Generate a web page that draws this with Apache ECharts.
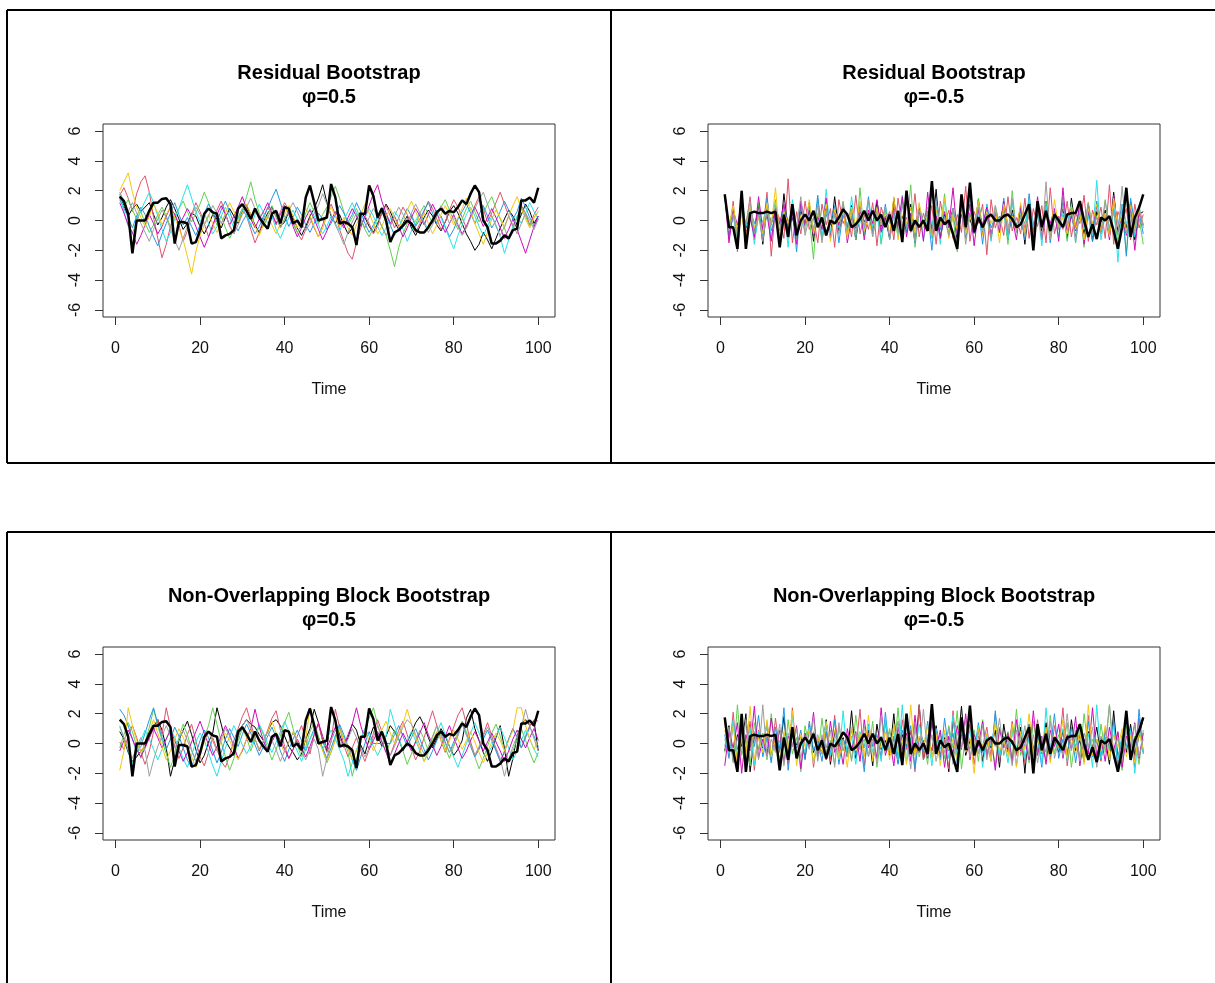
<!DOCTYPE html>
<html>
<head>
<meta charset="utf-8">
<script src="https://cdn.jsdelivr.net/npm/echarts/dist/echarts.min.js"></script>
<style>
  html, body { margin: 0; padding: 0; background: #fff; }
  #main { width: 1215px; height: 983px; }
</style>
</head>
<body>
<div id="main"></div>
<script>
// tick labels
var xTicks = [0, 20, 40, 60, 80, 100];
var yTicks = [-6, -4, -2, 0, 2, 4, 6];

// original series (thick black), phi = 0.5 and phi = -0.5
var origPos = [
  1.6,1.3,0.45,-2.2,0,0,0,0.65,1.2,1.2,
  1.45,1.5,1.1,-1.55,-0.1,-0.1,-0.2,-1.55,-1.45,-0.65,
  0.45,0.8,0.55,0.45,-1.2,-1.0,-0.9,-0.65,0.8,1.1,
  0.65,0.1,0.8,0.2,-0.2,-0.55,0.45,0.65,-0.2,0.9,
  0.8,-0.2,0,-0.45,1.55,2.35,1.2,0,0.1,0.2,
  2.45,1.55,-0.2,-0.1,-0.2,-0.45,-1.65,0.45,0.45,2.35,
  1.65,0.2,0.8,0,-1.45,-0.8,-0.65,-0.35,0,-0.2,
  -0.65,-0.8,-0.8,-0.45,0,0.55,0.8,0.45,0.65,0.55,
  0.9,1.35,1.1,1.8,2.35,1.9,0,-0.45,-1.55,-1.55,
  -1.35,-1.0,-1.2,-0.65,-0.55,1.35,1.35,1.55,1.2,2.2
];
var origNeg = [
  1.75,-0.45,-0.45,-1.9,2.0,-1.9,0.5,0.6,0.5,0.5,
  0.6,0.5,0.6,-1.8,0.4,-1.1,1.1,-1.0,0,0.4,
  0,0.65,-0.45,0.2,-1.0,0,-0.2,0.2,0.75,0.4,
  -0.45,-0.25,0.1,0.65,0,0.65,0,0.4,-0.45,0.4,
  -0.7,0.65,-1.45,2.0,-0.7,0,-0.45,0,-0.7,2.65,
  -0.7,0.2,-0.25,0,-0.9,-1.9,1.75,-0.45,2.55,-0.8,
  0.2,-0.45,0.2,0.4,0,0,0.3,0.4,0.1,-0.45,
  -0.25,0.4,1.1,-2.0,1.3,-0.45,0.65,-0.7,0.4,0,
  -0.45,0.4,0.5,0.5,1.3,0,-1.1,-0.25,-1.25,0.2,
  0,0.3,-0.7,-1.9,-0.45,2.2,-1.1,0.2,0.85,1.75
];

// residual bootstrap, phi = 0.5
var resPos1 = [
  1.6,1.0,0.3,0.8,1.1,0.6,0.9,1.2,0.4,-0.3,
  0.2,0.9,1.4,0.8,0.1,-0.6,-0.2,0.5,0.3,-0.4,
  -0.9,-0.3,0.4,0.1,-0.5,0.2,0.8,0.3,-0.2,0.6,
  1.0,0.4,-0.3,-0.8,-0.1,0.5,0.9,0.3,-0.4,-0.1,
  0.6,0.2,-0.5,-1.0,-0.4,0.3,0.8,1.5,2.4,1.2,
  0.3,-0.2,0.4,-0.3,-0.9,-0.5,0.1,0.6,0.2,-0.4,
  -0.8,-0.2,0.5,1.1,0.6,-0.1,-0.6,-0.2,0.3,-0.5,
  -1.0,-0.4,0.2,0.7,0.3,-0.3,-0.7,-0.1,0.6,1.0,
  0.5,-0.2,-0.9,-1.4,-2.0,-1.6,-0.8,-1.3,-1.9,-1.2,
  -0.5,0.1,0.7,0.3,-0.3,0.4,1.1,0.6,-0.2,0.3
];
var resPos2 = [
  1.7,2.2,1.5,0.6,1.8,2.6,3.0,1.9,0.2,-1.2,
  -2.5,-1.6,-0.4,0.5,-0.3,-1.4,-0.7,0.4,1.2,0.6,
  -0.2,-1.1,-0.5,0.7,1.3,0.5,-0.4,-0.9,0.2,0.8,
  0.3,-0.6,-1.5,-0.8,0.1,0.9,0.4,-0.3,0.6,1.2,
  0.7,-0.1,-0.8,-1.3,-0.6,0.2,-0.5,-1.1,-0.3,0.5,
  1.1,0.4,-0.6,-1.4,-2.2,-2.6,-1.5,-0.5,0.3,-0.2,
  -0.9,-0.4,0.5,1.0,0.3,-0.5,0.2,0.9,0.4,-0.3,
  -0.8,-0.2,0.6,1.3,0.8,0.1,-0.6,-0.1,0.7,1.4,
  0.9,0.2,-0.5,0.3,1.0,1.6,0.8,-0.1,0.5,1.2,
  1.9,1.1,0.3,-0.4,0.2,1.0,0.5,-0.3,0.4,0.9
];
var resPos3 = [
  1.5,0.9,1.4,0.7,0.1,0.6,-0.2,-0.8,-0.3,0.4,
  0.9,0.3,-0.4,0.2,0.8,1.3,0.6,-0.1,0.5,1.1,
  1.9,1.2,0.4,-0.3,0.3,-0.5,-1.2,-0.6,0.2,0.7,
  1.6,2.6,1.4,0.5,-0.2,0.4,1.0,0.3,-0.5,0.1,
  0.6,-0.2,-0.8,-0.3,0.5,1.2,0.6,-0.2,0.4,0.9,
  1.6,2.3,1.5,0.6,-0.3,0.2,0.8,0.1,-0.6,-1.1,
  -0.5,0.2,-0.4,-1.0,-2.0,-3.1,-1.8,-0.9,-0.2,0.4,
  -0.3,0.5,1.0,0.4,-0.2,0.3,0.9,1.4,0.7,0.0,
  -0.6,0.1,0.8,1.3,0.6,-0.1,0.5,1.1,1.6,0.8,
  0.1,-0.5,-1.3,-0.6,0.2,0.9,0.3,-0.4,0.2,0.6
];
var resPos4 = [
  1.4,0.8,0.2,-0.5,0.3,0.9,0.4,-0.4,-1.1,-1.7,
  -0.9,-0.2,0.5,1.2,0.4,-0.3,0.2,-0.4,-1.0,-0.3,
  0.5,1.1,0.6,-0.1,0.7,1.3,0.6,-0.2,-0.7,-0.1,
  0.4,-0.3,-0.9,-0.4,0.3,0.8,1.5,2.1,1.2,0.3,
  -0.4,0.2,0.9,0.4,-0.3,-0.8,-0.2,0.5,0.1,-0.6,
  -0.2,0.4,1.0,0.5,-0.1,0.4,1.2,0.6,-0.2,-0.8,
  -0.3,0.3,0.9,0.4,-0.3,-1.0,-0.5,0.2,0.8,0.3,
  -0.4,0.1,0.7,1.2,0.5,-0.2,0.3,-0.4,-1.1,-0.6,
  0.1,0.6,1.1,0.5,-0.2,0.4,1.0,0.3,-0.5,0.0,
  0.6,1.3,0.7,0.1,0.6,1.5,0.9,0.2,-0.4,0.1
];
var resPos5 = [
  1.8,0.6,-0.4,-0.9,0.0,0.7,1.3,1.9,1.2,0.3,
  -0.6,-1.4,-0.8,0.1,0.8,1.6,2.4,1.5,0.6,-0.1,
  0.5,-0.2,-0.9,-0.4,0.3,0.9,0.2,-0.5,0.1,0.7,
  0.3,-0.4,0.4,1.1,0.5,-0.2,0.3,-0.6,-1.2,-0.5,
  0.2,0.7,0.1,-0.5,0.2,0.8,0.3,-0.3,-0.9,-0.4,
  0.3,-0.2,-0.7,0.0,0.6,1.2,0.5,-0.3,0.2,0.8,
  0.3,-0.4,-1.0,-0.5,0.1,0.6,0.2,-0.6,-1.4,-0.7,
  0.0,0.5,-0.1,-0.6,0.1,0.7,0.2,-0.5,-1.2,-1.9,
  -1.0,-0.3,0.4,0.9,0.3,-0.4,-1.0,-0.4,0.3,-0.3,
  -1.1,-2.2,-1.3,-0.4,0.3,-0.2,0.5,1.2,0.6,0.1
];
var resPos6 = [
  1.2,0.5,-0.3,-0.8,-1.6,-1.0,-0.3,0.4,-0.2,-0.9,
  -0.4,0.3,0.9,0.4,-0.3,0.2,0.8,0.3,-0.4,-1.1,
  -1.8,-1.1,-0.3,0.4,1.0,0.4,-0.3,0.3,0.9,1.6,
  0.8,0.1,-0.5,0.1,0.6,1.2,0.5,-0.2,0.4,1.0,
  0.4,-0.4,-1.1,-0.5,0.2,0.7,0.1,-0.6,-1.3,-0.7,
  0.0,0.6,0.1,-0.5,0.2,0.8,0.3,-0.4,0.3,1.0,
  1.8,2.4,1.3,0.5,-0.2,0.3,-0.4,-1.1,-0.5,0.2,
  0.8,0.3,-0.3,0.4,1.1,0.5,-0.2,-0.8,-0.2,0.4,
  -0.3,-0.9,-0.4,0.3,0.9,0.3,-0.4,0.2,0.8,0.2,
  -0.5,-1.2,-0.6,0.1,-0.6,-1.4,-2.2,-1.3,-0.4,0.3
];
var resPos7 = [
  2.0,2.6,3.2,1.9,0.9,0.2,-0.4,0.3,1.1,0.5,
  -0.3,0.4,0.9,0.2,-0.5,-1.3,-2.4,-3.6,-2.1,-1.0,
  -0.3,0.4,-0.2,-0.8,-0.2,0.5,1.2,0.6,-0.1,0.5,
  1.1,0.4,-0.4,-1.0,-0.3,0.3,-0.3,-0.9,-0.2,0.4,
  1.0,0.3,-0.5,0.2,0.8,0.3,-0.4,-1.1,-0.5,0.3,
  0.9,0.3,-0.4,0.2,-0.5,-1.0,-0.3,0.4,1.1,0.5,
  -0.2,-0.9,-0.4,0.3,0.8,0.2,-0.5,0.1,0.7,1.3,
  0.6,-0.1,0.5,-0.2,-0.9,-0.3,0.4,1.0,0.4,-0.3,
  0.2,0.8,1.5,0.7,-0.2,-0.9,-1.6,-0.8,0.1,0.7,
  0.2,-0.5,0.3,1.0,1.6,0.8,0.1,-0.5,0.2,0.6
];
var resPos8 = [
  1.9,1.3,0.6,1.2,0.5,-0.2,-0.8,-1.4,-0.6,0.1,
  0.7,0.2,-0.6,-1.3,-2.0,-1.2,-0.4,0.3,0.9,0.4,
  -0.3,0.3,1.0,0.5,-0.2,0.4,-0.3,-0.9,-0.3,0.4,
  0.9,1.5,0.8,0.2,-0.4,0.2,0.8,0.2,-0.5,0.1,
  0.7,1.2,0.6,-0.1,-0.7,-0.2,0.5,1.0,1.8,1.1,
  0.4,-0.3,-0.9,-1.6,-0.8,-0.1,0.5,0.1,-0.5,0.2,
  0.8,0.3,-0.4,-1.0,-0.4,0.3,0.9,0.4,-0.2,0.5,
  1.1,0.5,-0.2,-0.8,-0.3,0.4,1.0,0.5,-0.2,0.3,
  -0.4,-1.0,-0.5,0.2,0.8,1.4,1.9,1.1,0.3,-0.4,
  -1.0,-0.4,0.3,-0.3,-0.9,-0.2,0.5,0.0,-0.6,0.1
];

// residual bootstrap, phi = -0.5
var resNeg1 = [
  1.75,-0.8,0.6,-1.2,1.4,-0.5,0.3,-0.9,1.1,-1.6,
  0.9,-0.2,0.6,-1.3,1.8,-0.6,0.2,-1.0,0.7,-0.3,
  1.2,-1.4,0.5,-0.2,0.9,-1.1,1.6,-0.7,0.4,-0.5,
  1.0,-1.3,0.7,-0.1,0.5,-0.9,1.3,-0.4,0.2,-1.2,
  1.5,-0.8,0.3,-0.6,1.1,-1.5,0.8,-0.2,0.6,-1.0,
  2.1,-1.2,0.4,-0.3,0.8,-1.4,1.2,-0.5,0.1,-0.8,
  1.4,-0.9,0.5,-1.1,0.6,-0.2,1.0,-1.3,0.7,-0.4,
  0.9,-1.6,1.1,-0.3,0.4,-0.7,1.3,-1.0,0.5,-0.2,
  0.8,-1.2,1.5,-0.6,0.3,-0.9,1.1,-1.4,0.6,-0.1,
  0.7,-1.1,1.9,-0.8,0.2,-0.5,1.2,-1.3,0.4,0.6
];
var resNeg2 = [
  1.75,-1.0,1.3,-2.1,0.9,-0.4,1.6,-1.3,0.3,-0.7,
  1.9,-2.4,0.8,0.1,-1.2,2.8,-1.5,0.6,-0.9,1.3,
  -0.6,0.2,-1.5,1.1,-0.3,0.8,-1.8,1.4,-0.2,0.5,
  -1.1,1.7,-0.9,0.4,-0.6,1.2,-1.7,0.9,-0.1,0.6,
  -1.3,1.5,-0.4,0.2,-0.8,1.8,-1.1,0.5,-0.5,1.0,
  -1.6,1.3,-0.3,0.7,-1.2,0.4,-0.8,2.3,-1.4,0.6,
  -0.2,1.1,-2.3,1.4,-0.5,0.3,-1.0,1.6,-0.7,0.2,
  -0.9,1.5,-1.2,0.8,-0.4,1.0,-1.5,2.2,-0.9,0.3,
  -0.6,1.3,-1.1,0.5,-0.2,1.7,-1.4,0.7,-0.3,0.9,
  -1.2,2.4,-1.6,0.6,-0.1,0.8,-1.3,1.1,-0.5,0.4
];
var resNeg3 = [
  1.75,-0.5,0.9,-1.4,2.0,-0.9,0.3,-0.6,1.2,-1.0,
  0.5,-0.2,1.4,-1.7,0.8,-0.3,0.6,-1.2,1.0,-0.4,
  0.2,-2.6,1.5,-0.5,0.7,-1.1,0.4,-0.2,1.3,-0.8,
  0.5,-1.3,2.2,-1.0,0.3,-0.5,0.9,-1.6,0.7,-0.1,
  0.6,-1.0,1.4,-0.7,2.4,-1.8,0.6,-0.2,0.9,-1.2,
  0.4,-0.6,1.8,-1.1,0.3,-2.1,1.2,-0.4,0.5,-0.9,
  1.5,-0.6,0.2,-1.3,1.0,-0.3,0.7,-1.6,2.0,-0.8,
  0.4,-0.2,1.1,-1.2,0.6,-0.5,1.3,-0.9,0.2,-0.6,
  1.6,-1.4,0.5,-0.3,0.9,-1.8,1.2,-0.4,0.3,-0.7,
  1.4,-0.9,0.6,-1.5,0.8,-2.2,1.3,-0.5,0.2,-1.6
];
var resNeg4 = [
  1.75,-1.2,0.4,-0.6,1.1,-1.7,0.8,-0.2,0.5,-1.0,
  1.5,-0.7,0.3,-1.4,0.9,-0.1,0.7,-2.1,1.2,-0.5,
  0.6,-0.9,1.7,-1.3,0.4,-0.2,1.0,-1.5,0.6,-0.4,
  0.8,-1.1,0.3,-0.6,1.6,-0.9,0.2,-0.7,1.1,-1.3,
  0.5,-0.3,1.2,-0.8,0.4,-1.5,0.9,-0.1,0.6,-2.0,
  1.4,-0.6,0.3,-1.0,0.8,-0.4,1.3,-1.2,0.5,-0.2,
  0.9,-1.6,1.1,-0.5,0.2,-0.8,1.5,-1.0,0.4,-0.6,
  0.7,-1.3,1.8,-0.7,0.3,-0.4,1.0,-1.5,0.6,-0.3,
  1.2,-0.8,0.4,-1.1,0.9,-0.2,0.5,-1.4,1.3,-0.6,
  0.3,-1.0,0.8,-0.4,1.1,-2.4,1.5,-0.3,0.6,-0.9
];
var resNeg5 = [
  1.75,-0.6,0.2,-1.0,1.3,-0.4,0.8,-1.6,0.5,-0.1,
  1.0,-1.2,0.6,-0.3,0.9,-1.8,1.4,-0.5,0.2,-0.8,
  1.1,-0.6,0.4,-1.3,2.1,-0.9,0.3,-0.5,0.8,-1.1,
  1.6,-0.7,0.1,-0.9,1.2,-0.4,0.7,-1.5,0.9,-0.2,
  0.4,-1.1,1.7,-0.6,0.2,-0.7,1.1,-1.3,0.5,-0.4,
  0.9,-1.6,1.3,-0.2,0.6,-1.0,0.4,-0.8,1.5,-0.9,
  0.3,-0.5,1.0,-1.4,0.7,-0.1,0.5,-1.2,1.2,-0.6,
  0.2,-0.9,1.4,-0.4,0.8,-1.7,1.0,-0.3,0.6,-1.1,
  0.5,-0.2,1.1,-1.5,0.9,-0.6,0.3,-1.0,2.7,-1.3,
  0.4,-0.7,1.2,-2.8,1.0,-0.2,0.6,-1.1,0.9,-0.5
];
var resNeg6 = [
  1.75,-1.5,0.7,-0.3,1.2,-0.9,0.2,-1.1,1.6,-0.6,
  0.4,-1.4,0.8,-0.2,1.1,-0.7,0.5,-1.6,1.3,-0.4,
  0.7,-1.0,0.3,-0.6,1.5,-1.2,0.6,-0.3,0.9,-1.5,
  0.2,-0.5,1.0,-1.3,0.7,-0.2,1.4,-0.8,0.3,-1.0,
  0.9,-0.4,1.6,-1.1,0.5,-0.3,0.8,-1.4,1.9,-0.7,
  0.3,-1.2,0.6,-0.5,2.2,-1.0,0.4,-0.6,1.1,-1.7,
  0.7,-0.3,0.9,-1.1,0.5,-0.8,1.3,-0.4,0.2,-1.3,
  1.0,-0.6,0.4,-0.9,1.6,-1.2,0.5,-0.2,0.8,-1.4,
  2.2,-0.9,0.3,-0.7,1.2,-1.6,0.6,-0.4,1.0,-0.8,
  0.5,-1.3,1.7,-0.5,0.2,-1.0,0.9,-2.0,0.7,-0.3
];
var resNeg7 = [
  1.75,-0.3,1.0,-0.8,0.4,-1.3,0.9,-0.5,0.2,-0.9,
  1.2,-0.4,2.2,-1.1,0.6,-0.2,0.8,-1.0,0.3,-0.6,
  1.4,-0.9,0.5,-0.3,1.1,-1.4,0.7,-0.1,0.6,-1.2,
  0.9,-0.4,1.3,-0.7,0.2,-1.1,0.8,-0.3,0.5,-0.9,
  1.6,-1.3,0.4,-0.2,0.9,-0.8,1.2,-0.5,0.3,-1.0,
  0.7,-0.3,1.5,-1.2,0.4,-0.6,1.0,-0.9,0.2,-0.4,
  1.3,-1.0,0.6,-0.2,0.8,-1.5,1.1,-0.4,0.3,-0.7,
  1.2,-0.8,0.5,-1.1,0.9,-0.3,0.6,-1.2,1.4,-0.5,
  0.2,-0.9,1.0,-0.6,0.4,-1.3,0.8,-0.2,1.1,-0.7,
  0.5,-1.1,1.5,-0.4,0.3,-0.8,1.0,-0.5,0.7,-0.2
];
var resNeg8 = [
  1.75,-0.7,0.5,-1.1,0.8,-0.2,1.3,-0.9,0.4,-1.4,
  0.6,-0.3,1.0,-0.7,0.3,-1.2,0.9,-0.4,1.6,-1.0,
  0.2,-0.6,1.1,-1.5,0.7,-0.3,0.5,-0.9,1.2,-0.6,
  0.3,-1.0,0.8,-0.4,1.4,-1.1,0.6,-0.2,0.9,-1.3,
  0.4,-0.8,1.1,-0.5,0.3,-1.4,0.7,-0.1,0.6,-0.9,
  1.3,-0.5,0.2,-1.0,0.8,-0.3,1.1,-1.6,0.5,-0.2,
  0.9,-0.7,0.4,-1.2,1.0,-0.4,0.6,-0.9,1.5,-0.8,
  0.3,-1.1,0.7,-0.2,0.9,-1.3,2.6,-1.2,0.4,-0.6,
  1.0,-0.4,0.8,-1.5,0.6,-0.3,1.2,-0.8,0.2,-0.9,
  1.3,-0.5,0.6,-1.0,2.3,-0.9,0.4,-0.7,1.0,-0.4
];

// non-overlapping block bootstrap, phi = 0.5
var blkPos1 = [
  0.8,0.3,-0.6,-1.2,-0.9,-0.5,-0.2,0.4,1.1,1.6,
  0.9,-0.3,-2.2,-1.1,0.2,0.9,1.5,0.6,-0.4,-1.3,
  -0.8,0.1,0.7,2.4,1.3,0.2,-0.3,-0.8,0.5,1.2,
  1.6,1.3,1.1,0.6,0.2,0.8,1.4,1.6,1.2,0.5,
  -0.2,-0.6,-1.1,-0.7,0.3,1.0,2.3,1.4,0.2,-0.5,
  2.4,1.5,0.6,-0.2,0.4,1.3,0.9,-0.1,-0.7,0.3,
  1.1,0.6,-0.2,0.5,1.2,0.8,0.3,-0.5,0.1,0.7,
  1.4,1.8,1.2,0.4,-0.3,0.3,1.0,0.5,-0.2,-0.8,
  -0.4,0.2,1.7,2.3,1.0,0.2,-0.6,-1.2,-0.5,0.4,
  1.2,-0.3,-2.2,-1.0,0.5,1.3,1.6,1.2,1.5,-0.5
];
var blkPos2 = [
  0.1,-0.4,0.5,1.2,0.4,-0.6,-1.4,-0.5,0.8,1.6,
  0.6,2.4,1.1,-0.2,-1.0,-0.3,0.6,1.3,0.2,-0.9,
  -1.5,-0.6,0.4,-0.4,-1.2,-1.6,-0.8,0.2,1.0,1.8,
  2.4,1.4,0.3,-0.5,0.1,0.9,1.7,2.2,0.9,-0.2,
  -1.0,-0.4,0.5,1.2,0.3,-0.7,0.6,1.3,0.2,-0.6,
  0.1,2.3,1.1,-0.1,-0.9,-0.3,0.4,-0.5,-1.2,-0.4,
  0.7,1.6,0.8,-0.2,-0.8,0.0,0.9,1.5,0.6,-0.3,
  -1.1,-0.5,0.4,1.3,2.2,1.2,0.2,-0.6,0.3,1.1,
  1.9,2.4,1.3,0.1,-0.8,-0.3,0.6,1.4,0.5,-0.4,
  -1.2,-0.6,0.3,1.0,0.4,-0.3,0.5,1.2,1.6,1.5
];
var blkPos3 = [
  -0.3,0.6,1.4,0.8,-0.2,-1.0,0.1,1.1,2.3,1.2,
  0.2,-0.7,-1.6,-0.8,0.4,1.3,0.6,-0.4,-1.2,-0.5,
  0.4,1.2,2.4,1.3,0.1,-0.9,-1.8,-1.0,0.2,1.0,
  0.4,-0.5,0.3,1.2,0.6,-0.3,-1.1,-0.4,0.5,1.4,
  2.1,1.0,-0.1,-0.9,-0.2,0.8,1.4,0.5,-0.4,-1.3,
  -0.6,0.3,1.1,0.4,-0.6,-2.2,-1.1,0.1,1.0,1.7,
  2.4,1.3,0.2,-0.6,0.1,0.9,0.3,-0.5,-1.4,-0.7,
  0.2,0.9,0.3,-0.5,0.4,1.2,0.5,-0.3,-1.0,-0.2,
  0.6,1.5,0.8,-0.1,-0.9,-1.7,-1.0,-0.2,0.7,1.3,
  0.5,-0.4,-1.1,-0.5,0.3,1.0,0.2,-0.6,-1.3,-0.6
];
var blkPos4 = [
  2.3,1.9,1.2,0.3,-0.6,-0.2,0.7,1.6,2.4,1.3,
  0.4,-0.4,0.3,1.1,0.5,-0.3,-1.1,-1.6,-0.7,0.2,
  0.9,0.4,-0.5,-1.3,-0.6,0.3,1.0,0.4,-0.2,0.6,
  1.3,0.7,-0.1,-0.8,-0.2,0.5,1.1,0.4,-0.5,-1.2,
  -0.4,0.3,0.9,0.2,-0.5,0.3,1.0,0.4,-0.3,-1.0,
  -0.3,0.5,1.3,0.6,-0.2,-1.1,-1.8,-0.9,0.0,0.8,
  0.0,0.0,0.0,0.0,0.0,0.6,1.2,0.5,-0.2,0.4,
  1.0,0.3,-0.4,-1.1,-0.5,0.2,0.8,0.1,-0.6,0.1,
  0.7,1.3,0.6,-0.2,-0.9,-0.4,0.3,0.9,0.2,-0.5,
  -1.2,-0.5,0.3,1.0,0.4,-0.3,0.4,1.1,0.5,-0.2
];
var blkPos5 = [
  1.2,0.4,-0.5,-1.3,-0.6,0.2,0.9,0.3,-0.4,-1.1,
  -0.4,0.3,1.0,0.4,-0.3,-1.0,-1.6,-0.8,0.1,0.7,
  0.2,-0.6,-1.5,-2.2,-1.2,-0.3,0.5,1.2,0.6,-0.1,
  -0.7,-0.2,0.5,1.3,0.7,0.0,-0.6,0.1,0.8,1.5,
  0.8,0.1,-0.5,-1.2,-0.4,0.3,0.8,0.2,-0.4,0.3,
  0.9,0.3,-0.4,-1.1,-2.2,-1.3,-0.4,0.3,1.0,0.5,
  -0.2,-0.8,-0.2,0.5,2.3,1.3,0.3,-0.4,0.2,0.8,
  0.2,-0.5,-1.2,-0.6,0.1,0.7,1.4,0.6,-0.2,-0.9,
  -1.6,-0.8,0.0,0.7,1.4,0.7,0.0,-0.7,-0.2,0.5,
  1.1,0.4,-0.3,-1.1,-0.5,0.2,0.9,0.3,-0.4,-0.9
];
var blkPos6 = [
  -0.5,0.2,0.9,0.3,-0.4,-0.9,-0.3,0.4,1.0,0.4,
  -0.3,0.3,0.9,0.2,-0.5,-1.2,-0.6,0.1,0.8,1.5,
  0.7,-0.1,-0.8,-0.2,0.5,1.2,0.6,-0.2,-1.0,-0.5,
  0.3,1.0,2.3,1.1,0.2,-0.5,0.1,0.7,0.2,-0.4,
  -1.0,-0.4,0.3,-0.3,-0.9,-0.2,0.6,1.4,0.5,-0.3,
  0.4,1.1,0.4,-0.2,0.6,1.3,2.4,1.2,0.3,-0.4,
  0.2,0.8,0.1,-0.6,-1.4,-0.7,0.0,0.7,0.1,-0.5,
  0.1,0.7,1.4,0.6,-0.1,-0.8,-0.2,0.5,1.2,0.4,
  -0.3,-1.0,-0.5,0.2,0.8,0.2,-0.5,0.1,0.7,0.1,
  -0.5,-1.2,-0.5,0.3,0.9,0.3,-0.3,0.4,1.0,0.2
];
var blkPos7 = [
  -1.8,-0.5,2.4,1.2,0.2,-0.6,0.0,0.8,1.6,0.7,
  -0.2,-1.1,-0.5,0.3,1.0,0.4,-0.3,-0.9,-1.6,-0.8,
  0.1,0.8,0.2,-0.5,0.1,0.7,0.2,-0.5,-1.1,-0.4,
  0.3,0.9,0.3,-0.4,0.2,0.8,1.5,0.7,0.0,-0.6,
  0.1,0.8,0.2,-0.5,0.3,2.4,1.3,0.3,-0.5,-1.2,
  -0.5,0.2,0.9,0.3,-0.3,-1.1,-0.5,0.2,0.8,0.2,
  -0.5,0.2,0.9,1.5,0.7,0.0,0.6,1.3,2.3,1.3,
  0.4,-0.4,-1.2,-0.5,0.2,0.8,0.2,-0.5,0.2,0.9,
  0.3,-0.4,0.2,0.8,0.1,-0.6,-1.3,-0.6,0.1,0.7,
  0.2,-0.5,0.2,0.9,2.4,2.4,1.2,0.3,-0.4,0.3
];
var blkPos8 = [
  1.1,0.4,-0.4,-1.0,-0.3,0.4,-0.5,-2.2,-1.1,-0.2,
  0.5,1.2,0.5,-0.3,0.3,0.9,0.2,-0.5,-1.2,-0.5,
  0.2,0.8,0.2,-0.5,0.3,1.0,0.5,-0.2,0.5,1.2,
  1.6,1.0,0.3,-0.4,0.2,0.8,0.2,-0.4,-1.2,-0.5,
  0.1,0.7,0.2,-0.5,-1.1,-0.4,0.3,-0.4,-2.2,-1.0,
  0.2,0.9,0.4,-0.3,0.3,1.0,0.4,-0.3,-0.9,-0.3,
  0.4,1.2,0.5,-0.2,-0.8,-0.2,0.5,1.1,1.6,1.3,
  0.6,-0.1,-0.7,-0.2,0.5,1.2,0.6,0.0,-0.6,-0.1,
  0.5,1.3,0.6,-0.1,-0.8,-0.2,0.5,1.1,0.4,-0.3,
  -1.0,-2.2,-1.1,-0.2,0.5,1.1,2.3,1.2,0.3,-0.5
];

// non-overlapping block bootstrap, phi = -0.5
var blkNeg1 = [
  -0.5,1.2,-1.1,0.6,-0.2,2.0,-1.9,0.5,0.6,-0.3,
  1.4,-0.9,0.4,-0.4,1.8,-1.2,0.7,-0.1,0.5,-1.0,
  1.1,-0.6,0.3,-0.7,1.6,-1.4,0.8,-0.2,0.4,-0.9,
  2.2,-1.0,0.5,-0.3,0.9,-1.5,1.3,-0.4,0.2,-0.8,
  2.0,-1.3,0.6,-0.2,0.8,-0.7,2.6,-1.1,0.3,-0.5,
  1.2,-0.9,0.4,-1.9,1.7,-0.4,2.5,-0.8,0.2,-0.5,
  1.0,-1.2,0.6,-0.3,0.9,-1.6,1.3,-0.5,0.2,-0.7,
  1.1,-2.0,1.3,-0.4,0.6,-0.7,1.4,-1.0,0.3,-0.6,
  0.9,-1.1,1.6,-0.5,0.2,-1.2,0.8,-0.3,1.1,-0.9,
  0.4,-1.4,2.2,-1.0,0.3,-0.6,1.3,-0.8,0.5,1.7
];
var blkNeg2 = [
  1.4,-0.8,2.1,-1.3,0.4,-0.6,1.5,-1.8,0.9,-0.2,
  0.6,-1.1,1.7,-0.5,0.3,-1.4,2.4,-0.9,0.2,-0.7,
  1.3,-1.6,0.5,-0.3,0.8,-1.2,1.9,-0.6,0.2,-0.9,
  1.1,-0.4,2.3,-1.5,0.7,-0.2,0.5,-1.0,1.4,-0.7,
  0.3,-1.3,1.6,-0.4,0.9,-1.9,2.6,-1.1,0.4,-0.5,
  1.0,-0.8,0.3,-1.7,2.2,-1.0,0.6,-0.3,1.3,-1.4,
  0.5,-0.2,1.1,-0.9,2.0,-1.2,0.4,-0.6,1.5,-0.8,
  0.2,-1.3,0.9,-0.5,1.6,-0.7,0.3,-1.1,1.2,-0.4,
  2.4,-1.5,0.6,-0.2,0.8,-1.0,1.9,-0.7,0.3,-1.2,
  1.0,-0.4,1.4,-1.6,0.5,-0.3,0.9,-1.1,1.7,-0.6
];
var blkNeg3 = [
  -0.6,0.9,-1.2,2.6,-0.8,0.3,-1.5,1.4,-0.4,0.7,
  -1.1,2.0,-0.5,0.2,-1.3,1.6,-0.7,0.4,-1.9,1.2,
  -0.3,0.8,-1.0,1.7,-0.6,0.2,-1.4,1.1,-0.5,0.6,
  -1.2,1.9,-0.4,0.3,-0.9,1.5,-1.6,0.5,-0.2,1.0,
  -0.7,2.4,-1.1,0.4,-0.6,1.3,-0.9,0.2,-1.4,1.8,
  -0.5,0.7,-1.0,1.2,-0.3,2.2,-1.7,0.6,-0.4,0.9,
  -1.2,1.6,-0.6,0.3,-1.5,1.1,-0.2,0.8,-1.0,2.3,
  -0.8,0.4,-1.3,1.5,-0.5,0.2,-1.1,1.9,-0.7,0.6,
  -0.3,1.4,-1.6,0.5,-0.9,2.0,-0.4,0.3,-1.2,1.3,
  -0.6,2.6,-1.0,0.7,-1.8,1.2,-0.3,0.5,-1.4,0.9
];
var blkNeg4 = [
  0.6,-1.0,1.3,-0.4,0.8,-1.6,0.5,-0.2,1.9,-0.9,
  0.4,-1.3,1.1,-0.6,2.4,-1.8,0.7,-0.3,0.9,-1.1,
  1.5,-0.5,0.2,-1.2,0.8,-0.7,1.6,-1.4,0.3,-0.5,
  1.0,-0.8,0.4,-1.9,1.3,-0.2,0.6,-1.0,2.1,-0.7,
  0.5,-1.4,0.9,-0.3,1.2,-1.7,0.4,-0.6,1.5,-0.9,
  0.2,-1.1,1.7,-0.5,0.7,-1.3,1.0,-0.4,0.3,-0.8,
  1.4,-0.6,0.2,-1.2,2.2,-0.9,0.5,-0.3,1.1,-1.5,
  0.6,-0.2,1.3,-0.8,0.4,-1.6,0.9,-0.5,2.0,-1.0,
  0.3,-0.7,1.1,-1.3,0.6,-0.4,1.5,-0.9,0.2,-1.1,
  0.8,-0.5,1.6,-1.8,0.4,-0.2,1.0,-1.6,2.3,-0.7
];
var blkNeg5 = [
  0.3,-0.7,1.6,-1.1,0.5,-0.4,1.0,-1.5,0.8,-0.2,
  1.3,-0.9,0.4,-1.6,0.7,-0.3,1.8,-1.0,0.2,-0.6,
  1.1,-1.3,0.6,-0.2,1.5,-0.8,0.3,-1.1,2.2,-0.9,
  0.5,-1.4,0.8,-0.3,1.2,-0.6,0.4,-1.2,1.6,-0.5,
  0.9,-1.1,2.6,-1.3,0.4,-0.7,1.3,-0.2,0.6,-1.5,
  1.0,-0.4,0.7,-1.0,1.9,-1.2,0.5,-0.3,0.9,-0.7,
  1.2,-1.6,0.6,-0.2,1.4,-0.9,0.3,-1.3,0.8,-0.5,
  1.7,-1.0,0.4,-0.6,1.1,-1.4,2.4,-0.8,0.3,-0.4,
  1.0,-1.2,0.5,-0.3,1.3,-0.9,0.7,-1.6,2.6,-1.0,
  0.4,-0.5,1.2,-1.1,0.6,-0.3,0.9,-2.0,1.1,-0.6
];
var blkNeg6 = [
  -1.5,0.8,-0.3,1.4,-2.0,0.6,-0.5,2.5,-1.0,0.3,
  -0.8,1.7,-0.4,0.9,-1.3,0.5,-0.2,1.2,-1.7,0.7,
  -0.3,2.1,-0.9,0.4,-1.1,1.5,-0.6,0.2,-1.4,1.0,
  -0.5,0.8,-1.2,1.6,-0.3,0.6,-1.0,2.4,-0.8,0.3,
  -1.5,1.1,-0.4,0.7,-1.2,1.9,-0.6,0.2,-1.0,1.4,
  -0.3,0.9,-1.6,0.5,-0.7,1.2,-0.4,2.0,-1.1,0.6,
  -0.2,1.5,-0.9,0.4,-1.8,1.0,-0.3,0.7,-1.3,1.6,
  -0.5,0.2,-1.1,2.2,-0.8,0.5,-1.4,0.9,-0.2,1.3,
  -1.0,0.6,-0.4,1.8,-1.5,0.3,-0.7,2.4,-0.9,0.4,
  -1.2,1.1,-0.5,0.8,-1.6,0.5,-0.2,1.4,-1.0,0.7
];
var blkNeg7 = [
  0.9,-0.3,1.2,-1.4,0.5,-0.8,2.5,-1.1,0.4,-0.6,
  1.6,-0.9,0.3,-1.2,0.8,-0.4,2.2,-1.5,0.6,-0.2,
  1.0,-1.3,0.5,-0.7,1.4,-0.3,0.9,-1.0,0.2,-1.6,
  1.1,-0.5,0.7,-0.9,1.9,-1.2,0.4,-0.3,0.8,-1.1,
  1.3,-0.6,0.3,-1.4,2.6,-0.8,0.5,-0.2,1.2,-1.0,
  0.6,-1.5,0.9,-0.4,0.3,-1.1,1.7,-0.6,0.4,-2.0,
  1.0,-0.3,0.7,-1.2,1.5,-0.5,0.2,-0.9,1.3,-1.6,
  0.8,-0.4,2.0,-0.9,0.3,-0.6,1.1,-1.3,0.5,-0.2,
  1.6,-1.0,0.4,-0.7,0.9,-1.4,2.6,-0.8,0.3,-0.5,
  1.2,-1.1,0.6,-0.3,1.0,-0.9,0.5,-1.3,0.8,-0.4
];
var blkNeg8 = [
  -0.2,1.1,-1.3,0.4,-0.7,1.6,-0.5,0.8,-1.1,2.6,
  -0.9,0.3,-0.6,1.3,-1.5,0.7,-0.2,1.0,-1.0,0.5,
  -0.4,1.8,-1.2,0.6,-0.3,0.9,-1.6,1.4,-0.5,0.2,
  -1.1,0.7,-0.4,1.2,-0.9,0.3,-1.3,1.9,-0.6,0.8,
  -0.2,1.5,-1.0,0.4,-1.7,1.0,-0.5,2.3,-0.8,0.6,
  -1.2,0.3,-0.6,1.1,-1.4,0.8,-0.3,1.6,-0.9,0.4,
  -0.7,1.3,-1.1,0.5,-0.2,1.7,-0.8,0.3,-1.5,0.9,
  -0.4,1.2,-0.9,0.6,-1.3,0.4,-0.6,1.5,-1.0,0.2,
  -0.8,2.0,-0.5,0.9,-1.2,0.7,-0.3,1.1,-1.6,0.5,
  -0.2,2.6,-0.7,0.4,-1.1,0.8,-0.5,1.3,-0.9,0.3
];

var lineColors = ['#000000', '#DF536B', '#61D04F', '#2297E6', '#28E2E5', '#CD0BBC', '#F5C710', '#9E9E9E'];

var panels = [
  { title: 'Residual Bootstrap', phi: 'φ=0.5', left: 103, top: 124,
    sets: [resPos1, resPos2, resPos3, resPos4, resPos5, resPos6, resPos7, resPos8], orig: origPos },
  { title: 'Residual Bootstrap', phi: 'φ=-0.5', left: 708, top: 124,
    sets: [resNeg1, resNeg2, resNeg3, resNeg4, resNeg5, resNeg6, resNeg7, resNeg8], orig: origNeg },
  { title: 'Non-Overlapping Block Bootstrap', phi: 'φ=0.5', left: 103, top: 647,
    sets: [blkPos1, blkPos2, blkPos3, blkPos4, blkPos5, blkPos6, blkPos7, blkPos8], orig: origPos },
  { title: 'Non-Overlapping Block Bootstrap', phi: 'φ=-0.5', left: 708, top: 647,
    sets: [blkNeg1, blkNeg2, blkNeg3, blkNeg4, blkNeg5, blkNeg6, blkNeg7, blkNeg8], orig: origNeg }
];

var FONT = '"Liberation Sans", Arial, sans-serif';
var PW = 452, PH = 193;

function toPoints(arr) {
  return arr.map(function (v, i) { return [i + 1, v]; });
}

var grids = [], xAxes = [], yAxes = [], series = [], graphics = [];

panels.forEach(function (p, k) {
  grids.push({ left: p.left, top: p.top, width: PW, height: PH, show: true,
    borderColor: '#333', borderWidth: 1, backgroundColor: 'transparent' });
  xAxes.push({
    type: 'value', gridIndex: k, min: -2.96, max: 103.96,
    name: 'Time', nameLocation: 'middle', nameGap: 65,
    nameTextStyle: { fontSize: 16, color: '#111', fontFamily: FONT },
    splitLine: { show: false }, axisLine: { show: false, onZero: false },
    axisTick: { show: true, inside: false, length: 8, customValues: xTicks, lineStyle: { color: '#333' } },
    axisLabel: { customValues: xTicks, margin: 24, fontSize: 16, color: '#111', fontFamily: FONT }
  });
  yAxes.push({
    type: 'value', gridIndex: k, min: -6.48, max: 6.48,
    splitLine: { show: false }, axisLine: { show: false, onZero: false },
    axisTick: { show: true, inside: false, length: 8, customValues: yTicks, lineStyle: { color: '#333' } },
    axisLabel: { customValues: yTicks, rotate: 90, margin: 19, fontSize: 16, color: '#111', fontFamily: FONT }
  });
  p.sets.forEach(function (arr, i) {
    series.push({
      type: 'line', xAxisIndex: k, yAxisIndex: k, data: toPoints(arr),
      showSymbol: false, silent: true,
      lineStyle: { color: lineColors[i], width: 1 }
    });
  });
  series.push({
    type: 'line', xAxisIndex: k, yAxisIndex: k, data: toPoints(p.orig),
    showSymbol: false, silent: true,
    lineStyle: { color: '#000', width: 2.5 }
  });
  var cx = p.left + PW / 2;
  graphics.push({ type: 'text', x: cx, y: p.top - 51,
    style: { text: p.title, fill: '#000', font: 'bold 20px ' + FONT, textAlign: 'center', textVerticalAlign: 'middle' } });
  graphics.push({ type: 'text', x: cx, y: p.top - 27,
    style: { text: p.phi, fill: '#000', font: 'bold 20px ' + FONT, textAlign: 'center', textVerticalAlign: 'middle' } });
});

// frame lines of the two rows
var frame = [
  [7, 10, 1215, 10], [7, 10, 7, 463], [7, 463, 1215, 463], [611, 10, 611, 463],
  [7, 532, 1215, 532], [7, 532, 7, 983], [611, 532, 611, 983]
];
frame.forEach(function (f) {
  graphics.push({ type: 'line', shape: { x1: f[0], y1: f[1], x2: f[2], y2: f[3] },
    style: { stroke: '#000', lineWidth: 2 } });
});

var chart = echarts.init(document.getElementById('main'));
chart.setOption({
  animation: false,
  backgroundColor: '#fff',
  grid: grids,
  xAxis: xAxes,
  yAxis: yAxes,
  series: series,
  graphic: graphics
});
</script>
</body>
</html>
